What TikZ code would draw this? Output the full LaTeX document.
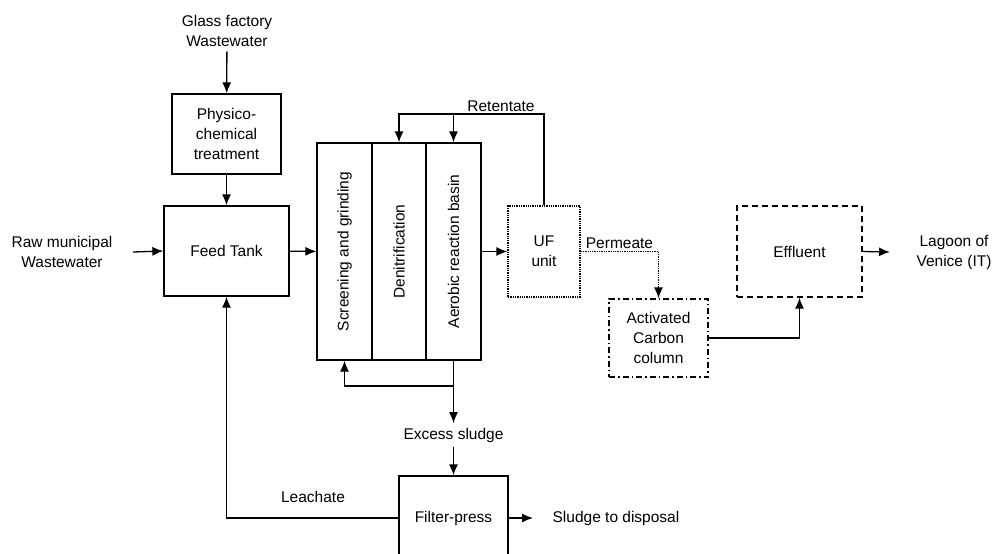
\documentclass[tikz,border=0pt]{standalone}
\usepackage{fontspec}
\setmainfont{Liberation Sans}
\usepackage{graphicx}
\usetikzlibrary{arrows.meta,positioning}

\begin{document}
\begin{tikzpicture}[x=1pt,y=-1pt,line width=1.3pt,
		font=\fontsize{15.5}{20}\selectfont,
		>={Latex[length=11pt,width=9pt]},
		unitbox/.style={draw,inner sep=0pt,align=center},
		txt/.style={align=center,inner sep=4pt}]
		\useasboundingbox (0,0) rectangle (994,554);
		\clip (0,0) rectangle (994,554);
		% 进水
		\node[txt] (glass) at (227,31) {Glass factory\\Wastewater};
		\node[txt] (raw) at (62,252) {Raw municipal\\Wastewater};
		\coordinate (rawend) at (133,252);
		\node[unitbox,minimum width=109,minimum height=80] (phys) at (226.5,134) {Physico-\\chemical\\treatment};
		\node[unitbox,minimum width=125,minimum height=90] (feed) at (226.5,251) {Feed Tank};
		% 生物反应池
		\node[unitbox,minimum width=55,minimum height=217] (screen) at (344.5,251.5) {\rotatebox{90}{Screening and grinding}};
		\node[unitbox,minimum width=54,minimum height=217] (denit) at (399,251.5) {\rotatebox{90}{Denitrification}};
		\node[unitbox,minimum width=55,minimum height=217] (aer) at (453.5,251.5) {\rotatebox{90}{Aerobic reaction basin}};
		% 膜过滤及后处理
		\node[unitbox,densely dotted,minimum width=72,minimum height=91] (uf) at (544,251.5) {UF\\unit};
		\node[unitbox,dash pattern=on 6pt off 3pt on 1.5pt off 3pt,minimum width=99,minimum height=78] (ac) at (658.5,338) {Activated\\Carbon\\column};
		\node[unitbox,dash pattern=on 6pt off 4pt,minimum width=125,minimum height=91] (eff) at (799.5,251.5) {Effluent};
		\node[txt] (lagoon) at (954,252) {Lagoon of\\Venice (IT)};
		\coordinate (lagend) at (890,252);
		% 污泥处理
		\node[txt] (excess) at (453.5,435) {Excess sludge};
		\node[unitbox,minimum width=109,minimum height=84] (fp) at (453.5,518) {Filter-press};
		\node[txt,anchor=west] (sludge) at (548,518) {Sludge to disposal};
		\coordinate (sludgeend) at (533,518);
		\coordinate (ret) at (399,114);
		\coordinate (split) at (453.5,386);
		% 连线
		\draw[->] (glass) -- (phys);
		\draw[->] (phys) -- (feed);
		\draw[->] (rawend) -- (feed.west);
		\draw[->] (feed) -- (screen);
		\draw[->] (uf.north) |- (ret) -- (denit.north);
		\draw[->] (aer.north |- ret) -- (aer.north);
		\node[txt] (retlabel) at (501,106) {Retentate};
		\draw[->] (aer) -- (uf);
		\draw[->,densely dotted] (uf.east) -| (ac.north);
		\node[txt] (permlabel) at (619.5,243) {Permeate};
		\draw[->] (ac.east) -| (eff.south);
		\draw[->] (eff.east) -- (lagend);
		\draw[->] (aer.south) -- (excess);
		\draw[->] (split) -| (screen.south);
		\draw[->] (excess) -- (fp);
		\draw[->] (fp.west) -| (feed.south);
		\node[txt] (leachlabel) at (313,497) {Leachate};
		\draw[->] (fp.east) -- (sludgeend);
	\end{tikzpicture}
\end{document}
